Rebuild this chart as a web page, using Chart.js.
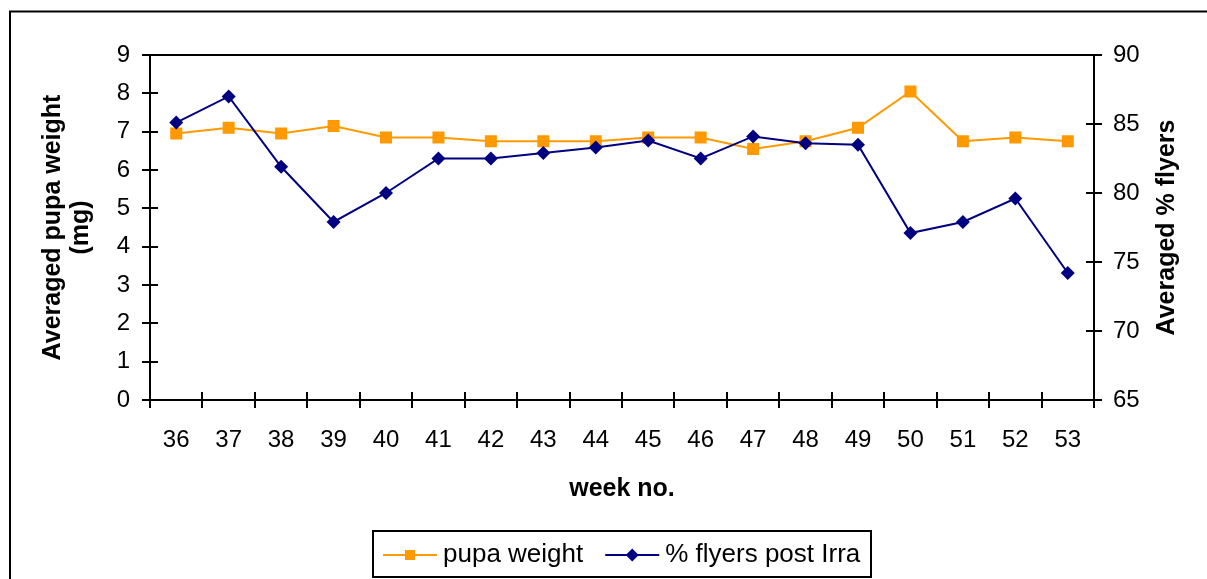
<!DOCTYPE html>
<html><head><meta charset="utf-8">
<script src="https://cdn.jsdelivr.net/npm/chart.js@4.4.0/dist/chart.umd.min.js"></script>
<style>html,body{margin:0;padding:0;background:#fff;overflow:hidden}#wrap{position:relative;width:1207px;height:579px}</style>
</head><body><div id="wrap"><canvas id="c" width="1207" height="579"></canvas></div>
<script>
const weeks = ['36','37','38','39','40','41','42','43','44','45','46','47','48','49','50','51','52','53'];
const pupaWeight = [6.95, 7.1, 6.95, 7.15, 6.85, 6.85, 6.75, 6.75, 6.75, 6.85, 6.85, 6.55, 6.75, 7.1, 8.05, 6.75, 6.85, 6.75];
const flyersPostIrra = [85.1, 87.0, 81.9, 77.9, 80.0, 82.5, 82.5, 82.9, 83.3, 83.8, 82.5, 84.1, 83.6, 83.5, 77.1, 77.9, 79.6, 74.2];
const leftTickValues = [0,1,2,3,4,5,6,7,8,9];
const rightTickValues = [65,70,75,80,85,90];
const seriesNames = ['pupa weight', '% flyers post Irra'];
const xTitle = 'week no.';
const leftTitle = ['Averaged pupa weight', '(mg)'];
const rightTitle = 'Averaged % flyers';

const FONT = '"Liberation Sans", Arial, sans-serif';
const ORANGE = '#FF9900', NAVY = '#000080';

const extrasPlugin = {
  id: 'extras',
  beforeDraw(chart) {
    const ctx = chart.ctx;
    ctx.save(); ctx.fillStyle = '#fff'; ctx.fillRect(0, 0, chart.width, chart.height); ctx.restore();
  },
  afterDraw(chart) {
    const {ctx, chartArea: a, scales} = chart;
    ctx.save();
    ctx.strokeStyle = '#000';
    ctx.lineWidth = 2;
    // outer frame (cropped at right/bottom)
    ctx.strokeRect(10, 11.5, 1400, 800);
    // top border of plot area
    ctx.beginPath(); ctx.moveTo(a.left, a.top); ctx.lineTo(a.right + 1, a.top); ctx.stroke();
    // inner halves of tick marks
    const TL = 8;
    ctx.beginPath();
    const n = scales.x.ticks.length;
    for (let i = 0; i <= n; i++) {
      const px = Math.round(scales.x.getPixelForValue(i - 0.5));
      ctx.moveTo(px, a.bottom); ctx.lineTo(px, a.bottom - TL);
    }
    leftTickValues.forEach(v => { const py = Math.round(scales.y.getPixelForValue(v)); ctx.moveTo(a.left, py); ctx.lineTo(a.left + TL, py); });
    rightTickValues.forEach(v => { const py = Math.round(scales.y1.getPixelForValue(v)); ctx.moveTo(a.right, py); ctx.lineTo(a.right - TL, py); });
    ctx.stroke();
    // right axis title (reads bottom to top)
    ctx.fillStyle = '#000';
    ctx.font = 'bold 25px ' + FONT;
    ctx.textAlign = 'center'; ctx.textBaseline = 'middle';
    ctx.save();
    ctx.translate(1167, (a.top + a.bottom) / 2);
    ctx.rotate(-Math.PI / 2);
    ctx.fillText(rightTitle, 0, 0);
    ctx.restore();
    // legend
    const items = chart.data.datasets.map(ds => ({label: ds.label, color: ds.borderColor, style: ds.pointStyle}));
    ctx.font = '26px ' + FONT;
    const lineLen = 54, gapLT = 6, gapItems = 22, padL = 10, padR = 11;
    let total = padL + padR;
    items.forEach((it, i) => { total += lineLen + gapLT + ctx.measureText(it.label).width + (i < items.length - 1 ? gapItems : 0); });
    const boxH = 46, boxY = 531;
    const boxX = Math.round((a.left + a.right) / 2 - total / 2);
    ctx.lineWidth = 2;
    ctx.strokeStyle = '#000';
    ctx.strokeRect(boxX, boxY, Math.round(total), boxH);
    const cy = boxY + boxH / 2 + 1;
    let x = boxX + padL;
    items.forEach((it, i) => {
      ctx.strokeStyle = it.color; ctx.fillStyle = it.color; ctx.lineWidth = 2;
      ctx.beginPath(); ctx.moveTo(x, cy); ctx.lineTo(x + lineLen, cy); ctx.stroke();
      const mx = x + lineLen / 2;
      ctx.beginPath();
      if (it.style === 'rect') { ctx.rect(mx - 5, cy - 5, 10, 10); }
      else { const r = 6.5; ctx.moveTo(mx - r, cy); ctx.lineTo(mx, cy - r); ctx.lineTo(mx + r, cy); ctx.lineTo(mx, cy + r); ctx.closePath(); }
      ctx.fill();
      x += lineLen + gapLT;
      ctx.fillStyle = '#000'; ctx.textAlign = 'left'; ctx.textBaseline = 'middle';
      ctx.fillText(it.label, x, cy);
      x += ctx.measureText(it.label).width + gapItems;
    });
    ctx.restore();
  }
};

new Chart(document.getElementById('c'), {
  type: 'line',
  data: {
    labels: weeks,
    datasets: [
      { label: seriesNames[0], data: pupaWeight, yAxisID: 'y', borderColor: ORANGE, backgroundColor: ORANGE,
        borderWidth: 2, pointStyle: 'rect', pointRadius: 8.5, pointBorderWidth: 0, pointHoverRadius: 8.5, tension: 0, order: 1 },
      { label: seriesNames[1], data: flyersPostIrra, yAxisID: 'y1', borderColor: NAVY, backgroundColor: NAVY,
        borderWidth: 2, pointStyle: 'rectRot', pointRadius: 7, pointBorderWidth: 0, pointHoverRadius: 7, tension: 0, order: 0 }
    ]
  },
  options: {
    responsive: false,
    animation: false,
    devicePixelRatio: 1,
    layout: { padding: { top: 55, bottom: 75, left: 0, right: 0 } },
    plugins: { legend: { display: false }, tooltip: { enabled: false }, title: { display: false } },
    scales: {
      x: {
        type: 'category', offset: true,
        grid: { display: true, offset: true, drawOnChartArea: false, drawTicks: true, tickLength: 8, color: '#000', lineWidth: 2 },
        border: { display: true, color: '#000', width: 2 },
        ticks: { color: '#000', font: { family: FONT, size: 24 }, padding: 18, maxRotation: 0, autoSkip: false },
        title: { display: true, text: xTitle, color: '#000', font: { family: FONT, size: 25, weight: 'bold' }, padding: { top: 0, bottom: 0 } },
        afterFit(s) { s.height = 104; }
      },
      y: {
        position: 'left', min: leftTickValues[0], max: leftTickValues[leftTickValues.length - 1],
        grid: { display: true, drawOnChartArea: false, drawTicks: true, tickLength: 8, color: '#000', lineWidth: 2 },
        border: { display: true, color: '#000', width: 2 },
        ticks: { stepSize: 1, color: '#000', font: { family: FONT, size: 24 }, padding: 12 },
        title: { display: true, text: leftTitle, color: '#000', font: { family: FONT, size: 25, weight: 'bold', lineHeight: 1.12 }, padding: { top: 39, bottom: 0 } },
        afterFit(s) { s.width = 150; }
      },
      y1: {
        position: 'right', min: rightTickValues[0], max: rightTickValues[rightTickValues.length - 1],
        grid: { display: true, drawOnChartArea: false, drawTicks: true, tickLength: 8, color: '#000', lineWidth: 2 },
        border: { display: true, color: '#000', width: 2 },
        ticks: { stepSize: 5, color: '#000', font: { family: FONT, size: 24 }, padding: 11 },
        title: { display: false, text: rightTitle },
        afterFit(s) { s.width = 113; }
      }
    }
  },
  plugins: [extrasPlugin]
});
</script>
</body></html>
